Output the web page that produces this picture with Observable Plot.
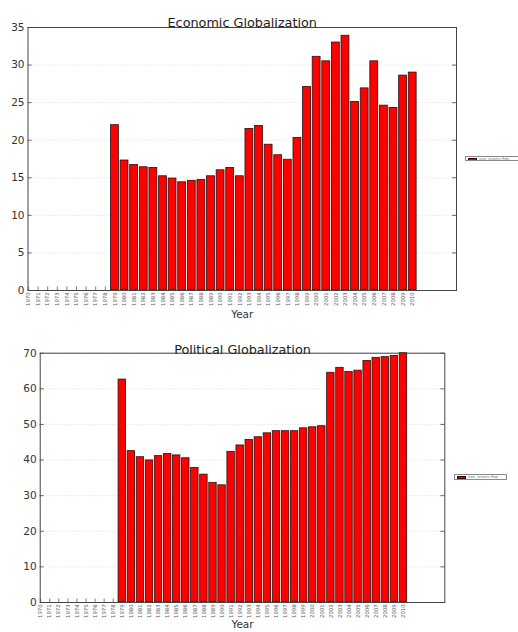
<!DOCTYPE html>
<html>
<head>
<meta charset="utf-8">
<script src="https://cdn.jsdelivr.net/npm/d3@7"></script>
<script src="https://cdn.jsdelivr.net/npm/@observablehq/plot@0.6"></script>
<style>
  html, body { margin: 0; padding: 0; width: 518px; height: 632px; overflow: hidden; background: #fff; }
  #wrap { position: relative; width: 518px; height: 632px; font-family: "DejaVu Sans", sans-serif; }
  .chart { position: absolute; left: 0; }
  .legend { position: absolute; border: 0.6px solid #8a8a8a; background: #fff; height: 5.5px; box-sizing: border-box; overflow: hidden; white-space: nowrap; }
  .legend .sw { position: absolute; left: 1.5px; top: 1px; width: 9px; height: 3px; background: #e00000; border: 0.5px solid #400; box-sizing: border-box; }
  .legend .tx { position: absolute; left: 13px; top: 0.2px; font-size: 3.6px; line-height: 4.5px; color: #777; }
</style>
</head>
<body>
<div id="wrap"></div>
<script>
const years = [1970,1971,1972,1973,1974,1975,1976,1977,1978,1979,1980,1981,1982,1983,1984,1985,1986,1987,1988,1989,1990,1991,1992,1993,1994,1995,1996,1997,1998,1999,2000,2001,2002,2003,2004,2005,2006,2007,2008,2009,2010];
const economic = [0,0,0,0,0,0,0,0,0,22.0,17.3,16.7,16.4,16.3,15.2,14.9,14.4,14.6,14.7,15.2,16.0,16.3,15.2,21.5,21.9,19.4,18.0,17.4,20.3,27.1,31.1,30.5,33.0,33.9,25.1,26.9,30.5,24.6,24.3,28.6,29.0];
const political = [0,0,0,0,0,0,0,0,0,62.6,42.5,40.8,39.9,41.1,41.7,41.3,40.5,37.8,35.9,33.6,32.9,42.3,44.1,45.6,46.4,47.5,48.1,48.1,48.1,48.9,49.2,49.5,64.5,65.9,64.7,65.1,67.8,68.7,68.9,69.2,70.0];
const ecoTicks = [0,5,10,15,20,25,30,35];
const polTicks = [0,10,20,30,40,50,60,70];
const seriesName = "Iran, Islamic Rep.";
const xDomain = [1969.95, 2014.56];

function makeChart({values, yDomain, yTicks, title, mt, mb, ml, mr, h, titleDy, yearDy}) {
  const W = 518;
  const data = years.map((y, i) => ({year: y, value: values[i]}));
  const pxX = (W - ml - mr) / (xDomain[1] - xDomain[0]);
  const pxY = (h - mt - mb) / (yDomain[1] - yDomain[0]);
  const tx = 4 / pxX, ty = 3.5 / pxY;
  return Plot.plot({
    width: W, height: h,
    marginTop: mt, marginBottom: mb, marginLeft: ml, marginRight: mr,
    style: {fontFamily: "DejaVu Sans", background: "white", overflow: "visible"},
    x: {domain: xDomain, axis: null},
    y: {domain: yDomain, axis: null},
    marks: [
      Plot.gridY({ticks: yTicks, stroke: "#888", strokeOpacity: 0.3, strokeDasharray: "1,2"}),
      Plot.rectY(data, {x1: d => d.year - 0.41, x2: d => d.year + 0.41, y1: 0, y2: "value", fill: "#ff0000", stroke: "#2a1010", strokeWidth: 0.8}),
      Plot.ruleY(yTicks, {y: d => d, x1: xDomain[0], x2: xDomain[0] + tx, stroke: "#444", strokeWidth: 0.8}),
      Plot.ruleY(yTicks, {y: d => d, x1: xDomain[1] - tx, x2: xDomain[1], stroke: "#444", strokeWidth: 0.8}),
      Plot.ruleX(years, {x: d => d, y1: yDomain[0], y2: yDomain[0] + ty, stroke: "#444", strokeWidth: 0.7}),
      Plot.frame({stroke: "#444", strokeWidth: 1}),
      Plot.axisY({ticks: yTicks, tickSize: 0, tickPadding: 3.5, fontSize: 10.5, color: "#333", label: null}),
      Plot.axisX({ticks: years, tickFormat: d => String(d), tickSize: 0, tickPadding: 2, tickRotate: -90, fontSize: 5.3, color: "#555", label: null}),
      Plot.text([title], {frameAnchor: "top", dy: titleDy, fontSize: 12.8, fill: "#222", text: d => d}),
      Plot.text(["Year"], {frameAnchor: "bottom", dy: yearDy, fontSize: 10.5, fill: "#333", text: d => d})
    ]
  });
}

const wrap = document.getElementById("wrap");

const c1 = makeChart({values: economic, yDomain: [0, 35], yTicks: ecoTicks, title: "Economic Globalization",
  mt: 27, mb: 35, ml: 27.5, mr: 62, h: 325, titleDy: -10, yearDy: 27});
c1.classList.add("chart"); c1.style.top = "0px";
wrap.appendChild(c1);

const c2 = makeChart({values: political, yDomain: [0, 70], yTicks: polTicks, title: "Political Globalization",
  mt: 27.7, mb: 30, ml: 39.7, mr: 73.7, h: 307, titleDy: -8.5, yearDy: 25});
c2.classList.add("chart"); c2.style.top = "325px";
wrap.appendChild(c2);

function legend(left, top, width) {
  const d = document.createElement("div");
  d.className = "legend";
  d.style.left = left + "px"; d.style.top = top + "px"; d.style.width = width + "px";
  const sw = document.createElement("div"); sw.className = "sw";
  const t = document.createElement("div"); t.className = "tx"; t.textContent = seriesName;
  d.appendChild(sw); d.appendChild(t);
  wrap.appendChild(d);
}
legend(465, 155.5, 60);
legend(454, 474, 53);
</script>
</body>
</html>
